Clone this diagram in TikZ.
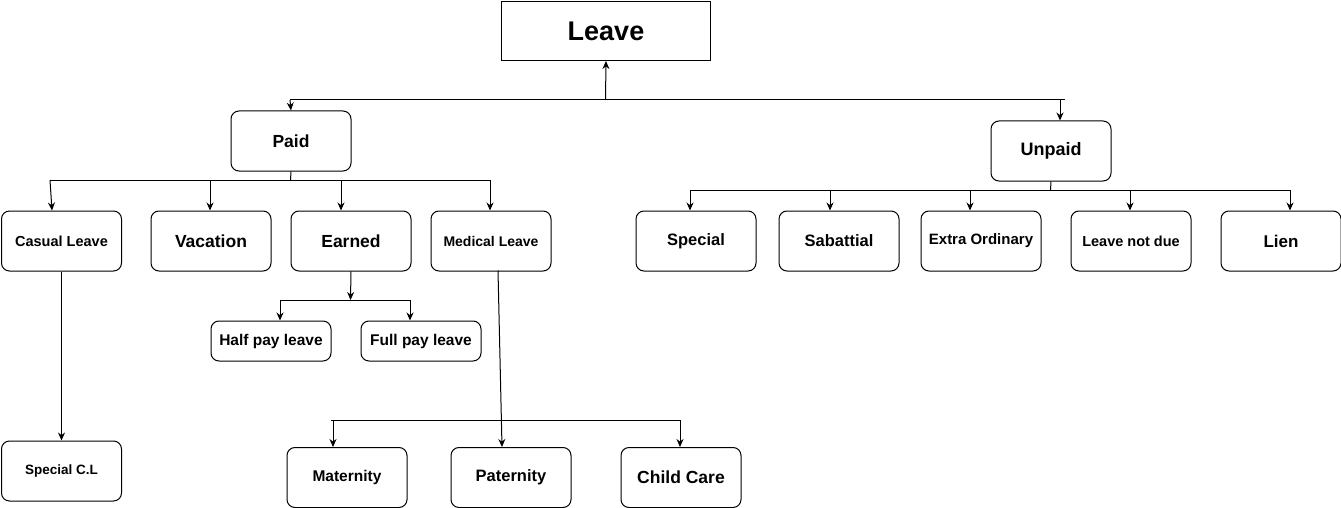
\documentclass[tikz,border=0pt]{standalone}
\usepackage{fontspec}
\setmainfont{Liberation Sans}
\usetikzlibrary{arrows.meta}
\tikzset{
 box/.style={draw, line width=1pt, rounded corners=8pt, minimum width=120pt, minimum height=60pt, anchor=north west, inner sep=0pt, font=\bfseries},
 smallbox/.style={box, minimum height=40pt},
 arr/.style={line width=1pt, -{Stealth[length=8pt,width=7pt]}},
 ln/.style={line width=1pt},
}
\newcommand{\fs}[1]{\fontsize{#1}{#1}\selectfont}
\begin{document}
\begin{tikzpicture}[x=1pt,y=-1pt]
\useasboundingbox (0,0) rectangle (1341,508);
% nodes
\node[box, rounded corners=0pt, minimum width=209pt, minimum height=59pt] (leave) at (501,1) {\fs{27}Leave};
\node[box] (paid) at (230.5,110.5) {\fs{17.5}Paid};
\node[box] (unpaid) at (990.5,120.5) {\fs{18}Unpaid};
\node[box] (casual) at (1,210.5) {\fs{14.5}Casual Leave};
\node[box] (vac) at (150.5,210.5) {\fs{17.5}Vacation};
\node[box] (earned) at (290.5,210.5) {\fs{17.5}Earned};
\node[box] (med) at (430.5,210.5) {\fs{14}Medical Leave};
\node[smallbox] (half) at (210.5,320.5) {\fs{15.5}Half pay leave};
\node[smallbox] (full) at (360.5,320.5) {\fs{15.5}Full pay leave};
\node[box] (scl) at (1,440.5) {\fs{13.5}Special C.L};
\node[box] (mat) at (286.5,447) {\fs{15.5}Maternity};
\node[box] (pat) at (450.5,447) {\raisebox{2pt}{\fs{16.5}Paternity}};
\node[box] (child) at (620.5,447) {\fs{17.5}Child Care};
\node[box] (spec) at (635.5,210.5) {\fs{16.5}Special};
\node[box] (sab) at (778.5,210.5) {\fs{16.5}Sabattial};
\node[box] (extra) at (920.5,210.5) {\fs{15}Extra Ordinary};
\node[box] (lnd) at (1070.5,210.5) {\fs{14.5}Leave not due};
\node[box] (lien) at (1220.5,210.5) {\fs{17}Lien};
% top bus
\coordinate (busL) at (290,100);
\coordinate (busM) at (605.5,100);
\coordinate (busU) at (1060,100);
\coordinate (busR) at (1065,100);
\draw[ln] (busL) -- (busR);
\draw[arr] (busM) -- (leave.south);
\draw[arr] (busL) -- (paid.north);
\draw[arr] (busU) -- (busU |- unpaid.north);
% paid children
\coordinate (pj) at (290.5,180);
\coordinate (p1) at (50,180);
\coordinate (p2) at (210,180);
\coordinate (p3) at (341,180);
\coordinate (p4) at (490,180);
\coordinate (p1e) at (52,210.5);
\draw[ln] (paid.south) -- (pj);
\draw[ln] (p1) -- (p4);
\draw[arr] (p1) -- (p1e);
\draw[arr] (p2) -- (p2 |- vac.north);
\draw[arr] (p3) -- (p3 |- earned.north);
\draw[arr] (p4) -- (p4 |- med.north);
% earned children
\coordinate (ej) at (350.5,300);
\coordinate (e1) at (280,300);
\coordinate (e2) at (410,300);
\draw[arr] (earned.south) -- (ej);
\draw[ln] (e1) -- (e2);
\draw[arr] (e1) -- (e1 |- half.north);
\draw[arr] (e2) -- (e2 |- full.north);
% casual
\draw[arr] (casual.south) -- (scl.north);
% medical
\coordinate (ms) at (498,270.5);
\coordinate (mp) at (502,447);
\draw[arr] (ms) -- (mp);
\coordinate (m1) at (331,420);
\coordinate (m1a) at (333,420);
\coordinate (m2) at (680,420);
\draw[ln] (m1) -- (m2);
\draw[arr] (m1a) -- (m1a |- mat.north);
\draw[arr] (m2) -- (m2 |- child.north);
% unpaid children
\coordinate (uj) at (1050.5,190);
\coordinate (u1) at (690,190);
\coordinate (u2) at (830,190);
\coordinate (u3) at (970,190);
\coordinate (u4) at (1130,190);
\coordinate (u5) at (1290,190);
\draw[ln] (unpaid.south) -- (uj);
\draw[ln] (u1) -- (u5);
\draw[arr] (u1) -- (u1 |- spec.north);
\draw[arr] (u2) -- (u2 |- sab.north);
\draw[arr] (u3) -- (u3 |- extra.north);
\draw[arr] (u4) -- (u4 |- lnd.north);
\draw[arr] (u5) -- (u5 |- lien.north);
\end{tikzpicture}
\end{document}
